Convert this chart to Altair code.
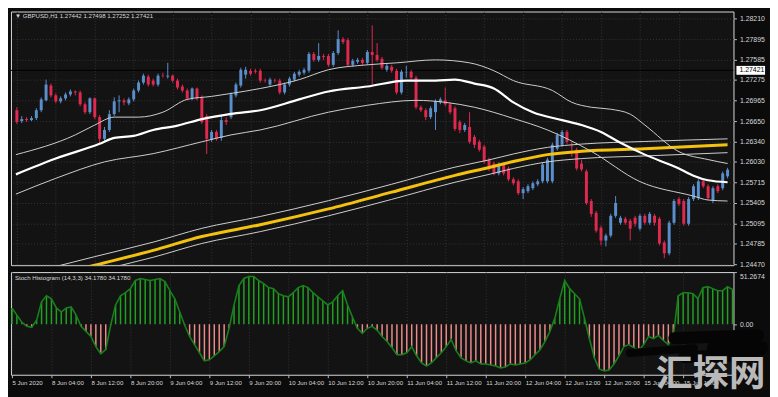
import json
import altair as alt
import pandas as pd

# ---------------- data ----------------
header = "▼ GBPUSD,H1  1.27442 1.27498 1.27252 1.27421"
ind_title = "Stoch Histogram (14,3,3) 34.1780 34.1780"
last_price = 1.27421

bar_index = list(range(147))
opens = [
    1.26815, 1.2665, 1.2668, 1.26665, 1.26695, 1.26815, 1.26965, 1.2719, 1.2704, 1.2695,
    1.26995, 1.27055, 1.271, 1.27085, 1.26905, 1.26785, 1.26995, 1.2671, 1.2638, 1.26515,
    1.26755, 1.2695, 1.26965, 1.2692, 1.2698, 1.27115, 1.27235, 1.27325, 1.27265, 1.27205,
    1.2734, 1.27325, 1.2734, 1.27265, 1.27175, 1.27115, 1.26995, 1.27145, 1.2701, 1.26725,
    1.26365, 1.26485, 1.26395, 1.26665, 1.2671, 1.2704, 1.2719, 1.27355, 1.27415, 1.27415,
    1.27415, 1.27265, 1.27205, 1.2727, 1.27265, 1.27085, 1.27205, 1.2728, 1.27355, 1.27385,
    1.27415, 1.2767, 1.2758, 1.2764, 1.2764, 1.27505, 1.27685, 1.27895, 1.2788, 1.27505,
    1.2755, 1.2758, 1.27535, 1.277, 1.27655, 1.27595, 1.2743, 1.27475, 1.27415, 1.27085,
    1.27385, 1.274, 1.2731, 1.2686, 1.26815, 1.2671, 1.26785, 1.26935, 1.26965, 1.26905,
    1.26845, 1.26635, 1.26515, 1.2656, 1.2641, 1.26335, 1.2626, 1.26065, 1.26005, 1.25855,
    1.2599, 1.2593, 1.25765, 1.25735, 1.25555, 1.25585, 1.2563, 1.2569, 1.25735, 1.25735,
    1.25735, 1.2623, 1.2629, 1.26485, 1.2626, 1.26215, 1.26005, 1.25885, 1.25435, 1.25255,
    1.2503, 1.24835, 1.2491, 1.2521, 1.25105, 1.25165, 1.25135, 1.2518, 1.25015, 1.2521,
    1.25105, 1.2521, 1.25165, 1.24805, 1.2464, 1.25105, 1.25465, 1.25435, 1.2509, 1.25465,
    1.2548, 1.25735, 1.2566, 1.25435, 1.2566, 1.2563, 1.2581,
]
highs = [
    1.2686, 1.26725, 1.2671, 1.26725, 1.26845, 1.2701, 1.2728, 1.2722, 1.2707, 1.27025,
    1.27085, 1.2713, 1.27115, 1.27115, 1.26935, 1.2701, 1.2701, 1.2674, 1.2656, 1.26815,
    1.2701, 1.2704, 1.26995, 1.2701, 1.27145, 1.27265, 1.2737, 1.27355, 1.27295, 1.2737,
    1.27385, 1.27535, 1.27355, 1.27295, 1.27205, 1.27145, 1.2716, 1.2716, 1.2704, 1.26755,
    1.26515, 1.26515, 1.2674, 1.2671, 1.27085, 1.27235, 1.2746, 1.27475, 1.27445, 1.27445,
    1.27445, 1.27295, 1.2731, 1.27295, 1.27295, 1.27235, 1.27325, 1.274, 1.2743, 1.2746,
    1.277, 1.277, 1.27835, 1.2767, 1.2767, 1.27715, 1.2803, 1.27925, 1.2791, 1.27595,
    1.2761, 1.2761, 1.2773, 1.28105, 1.27835, 1.27625, 1.2752, 1.27505, 1.27445, 1.2743,
    1.2749, 1.2743, 1.2734, 1.2689, 1.26845, 1.26875, 1.2698, 1.2701, 1.2716, 1.26935,
    1.26875, 1.26665, 1.2662, 1.26785, 1.2644, 1.26365, 1.2629, 1.26095, 1.26035, 1.2602,
    1.2602, 1.2596, 1.25795, 1.25765, 1.25645, 1.2569, 1.25735, 1.25765, 1.2602, 1.26095,
    1.2632, 1.2647, 1.26515, 1.26515, 1.26335, 1.26245, 1.26065, 1.25915, 1.25465, 1.25285,
    1.2506, 1.2494, 1.2524, 1.2551, 1.2521, 1.25195, 1.25165, 1.2521, 1.2524, 1.2524,
    1.2527, 1.2524, 1.25195, 1.24835, 1.25135, 1.25465, 1.25495, 1.25465, 1.25495, 1.2569,
    1.25765, 1.25765, 1.2569, 1.2566, 1.2569, 1.25885, 1.2594,
]
lows = [
    1.26605, 1.2662, 1.26635, 1.2665, 1.26665, 1.26785, 1.2695, 1.2701, 1.2692, 1.2692,
    1.26965, 1.27025, 1.2704, 1.26875, 1.26755, 1.26755, 1.2668, 1.26305, 1.2635, 1.26485,
    1.26725, 1.26785, 1.2689, 1.2689, 1.2695, 1.27085, 1.27205, 1.27175, 1.27175, 1.27175,
    1.2731, 1.27295, 1.27235, 1.2713, 1.27085, 1.26965, 1.26965, 1.26965, 1.26605, 1.2615,
    1.26335, 1.2635, 1.2635, 1.2659, 1.2668, 1.2701, 1.2716, 1.27295, 1.2734, 1.2737,
    1.27235, 1.27235, 1.27175, 1.27235, 1.27055, 1.27055, 1.27175, 1.2725, 1.27325, 1.27355,
    1.27385, 1.2755, 1.2755, 1.2758, 1.27475, 1.27475, 1.27655, 1.2782, 1.27475, 1.27475,
    1.2752, 1.27505, 1.27505, 1.27205, 1.2755, 1.2743, 1.274, 1.27385, 1.27055, 1.27055,
    1.2731, 1.2728, 1.2683, 1.26785, 1.26665, 1.2668, 1.26515, 1.26905, 1.26875, 1.26755,
    1.265, 1.2647, 1.26485, 1.26305, 1.2624, 1.26185, 1.26005, 1.2589, 1.25825, 1.25825,
    1.25825, 1.25735, 1.25675, 1.25525, 1.25465, 1.25555, 1.256, 1.2566, 1.25705, 1.25705,
    1.25705, 1.262, 1.2626, 1.26305, 1.2611, 1.259, 1.25885, 1.25375, 1.25195, 1.24955,
    1.2476, 1.24745, 1.2488, 1.2518, 1.25075, 1.25075, 1.24835, 1.25045, 1.24985, 1.25075,
    1.25075, 1.2506, 1.2476, 1.24565, 1.2461, 1.25075, 1.2536, 1.2506, 1.2506, 1.25435,
    1.2545, 1.2563, 1.2545, 1.25405, 1.25555, 1.256, 1.2578,
]
closes = [
    1.26635, 1.2668, 1.26665, 1.26695, 1.26815, 1.2698, 1.27205, 1.2704, 1.2695, 1.26995,
    1.27055, 1.271, 1.27085, 1.26905, 1.26785, 1.26995, 1.2671, 1.2638, 1.26515, 1.26755,
    1.2695, 1.26965, 1.26935, 1.2698, 1.27115, 1.27235, 1.2734, 1.27205, 1.27205, 1.2734,
    1.27335, 1.2734, 1.27265, 1.2716, 1.27115, 1.26995, 1.27145, 1.26995, 1.26635, 1.2638,
    1.26485, 1.2638, 1.26665, 1.26635, 1.27055, 1.27205, 1.2743, 1.2743, 1.2737, 1.274,
    1.27265, 1.2726, 1.2728, 1.27265, 1.27085, 1.27205, 1.27295, 1.2737, 1.274, 1.2743,
    1.2767, 1.2758, 1.2764, 1.27625, 1.27505, 1.27685, 1.27895, 1.2785, 1.27505, 1.27565,
    1.2758, 1.27535, 1.277, 1.27655, 1.2758, 1.2746, 1.2749, 1.27415, 1.27085, 1.274,
    1.2739, 1.2731, 1.2686, 1.26815, 1.2671, 1.26845, 1.2695, 1.2698, 1.26905, 1.26785,
    1.2653, 1.26515, 1.2659, 1.26335, 1.2629, 1.26215, 1.26035, 1.2593, 1.25855, 1.2599,
    1.25855, 1.25765, 1.25705, 1.25555, 1.25615, 1.2566, 1.25705, 1.25735, 1.2599, 1.26065,
    1.2629, 1.2644, 1.26485, 1.26335, 1.26255, 1.2593, 1.25915, 1.25405, 1.2524, 1.24985,
    1.24835, 1.2491, 1.2521, 1.25405, 1.2518, 1.25105, 1.25015, 1.2509, 1.2521, 1.25105,
    1.2524, 1.25105, 1.2479, 1.2464, 1.25105, 1.25435, 1.2539, 1.2509, 1.25465, 1.2566,
    1.25735, 1.2566, 1.2548, 1.2563, 1.25585, 1.25855, 1.2591,
]

stoch = [
    16, 9, 2, -2, -3, 4, 22, 28, 25, 16,
    12, 16, 17, 9, -2, -7, -12, -22, -29, -25,
    -1, 19, 28, 31, 35, 43, 45, 44, 43, 44,
    45, 42, 33, 25, 12, -1, -12, -20, -28, -36,
    -35, -31, -27, -22, -4, 19, 38, 45, 47, 47,
    43, 40, 36, 35, 30, 28, 27, 31, 36, 38,
    36, 31, 27, 23, 19, 22, 28, 33, 19, 7,
    -4, -9, -4, -2, -6, -12, -17, -23, -30, -30,
    -28, -22, -31, -38, -41, -38, -33, -28, -22, -15,
    -26, -33, -36, -38, -36, -39, -39, -40, -41, -43,
    -42, -39, -40, -39, -38, -35, -30, -25, -17, -7,
    6, 25, 43, 35, 30, 25, 6, -14, -33, -44,
    -46, -45, -39, -31, -22, -20, -23, -26, -20, -12,
    -14, -11, -16, -20, -12, 28, 31, 31, 30, 25,
    36, 37, 35, 33, 33, 37, 34.178,
]

# moving-average envelope (white) read at sample bars
mid_idx = [-0.2, 8, 17, 20, 24, 28, 33, 38, 44, 50, 58, 64, 72, 80, 86, 90, 94, 98, 102,
           106, 112, 116, 120, 124, 129, 136, 139, 142, 146]
mid_val = [1.2584, 1.2608, 1.26305, 1.26395, 1.26425, 1.26515, 1.2658, 1.2668, 1.2676,
           1.26815, 1.2698, 1.271, 1.27175, 1.27265, 1.27265, 1.2728, 1.2722, 1.27145,
           1.26935, 1.26785, 1.26665, 1.2659, 1.26485, 1.2632, 1.2614, 1.2593, 1.2582,
           1.2575, 1.2572]
up_idx = [-0.2, 12, 16, 20, 25, 30, 35, 40, 44, 50, 58, 64, 72, 78, 86, 93, 98, 102, 110,
          114, 118, 122, 126, 129, 136, 142, 146]
up_val = [1.2614, 1.2644, 1.2659, 1.2671, 1.2671, 1.26785, 1.2698, 1.27025, 1.2707,
          1.27145, 1.2728, 1.2743, 1.27505, 1.27535, 1.2758, 1.27535, 1.27415, 1.27265,
          1.27115, 1.26935, 1.2686, 1.2683, 1.26755, 1.2659, 1.26185, 1.26065, 1.26005]
lo_idx = [-0.2, 8, 18, 28, 38, 44, 50, 64, 72, 82, 88, 94, 102, 109, 118, 128, 139, 142, 146]
lo_val = [1.2554, 1.2578, 1.2603, 1.26155, 1.26335, 1.2644, 1.26515, 1.26785, 1.2689,
          1.26965, 1.26935, 1.2686, 1.2669, 1.26515, 1.2619, 1.2573, 1.2551, 1.2545, 1.25435]

# long moving average (yellow) and its thin band
ma200_idx = [-0.2, 8, 16, 28, 38, 50, 64, 77, 90, 97, 102, 109, 116, 129, 146]
ma200_val = [1.2415, 1.2431, 1.2446, 1.24685, 1.24895, 1.25075, 1.25315, 1.2557, 1.25825,
             1.25945, 1.26035, 1.2614, 1.2619, 1.2623, 1.2629]
ma200_up = [1.2428, 1.2444, 1.2459, 1.2481, 1.2502, 1.2520, 1.2544, 1.2569, 1.2595, 1.2606,
            1.2615, 1.2625, 1.2630, 1.2634, 1.2638]
ma200_lo = [1.2404, 1.2420, 1.2436, 1.2458, 1.2479, 1.2497, 1.2521, 1.2546, 1.2572, 1.2584,
            1.2593, 1.2603, 1.2608, 1.2612, 1.2617]

price_ticks = [1.28210, 1.27895, 1.27585, 1.27275, 1.26965, 1.26650, 1.26340, 1.26030,
               1.25715, 1.25405, 1.25095, 1.24785, 1.24470]
time_idx = [0, 8, 16, 24, 32, 40, 48, 56, 64, 72, 80, 88, 96, 104, 112, 120, 128, 136]
time_labels = ["5 Jun 2020", "8 Jun 04:00", "8 Jun 12:00", "8 Jun 20:00", "9 Jun 04:00",
               "9 Jun 12:00", "9 Jun 20:00", "10 Jun 04:00", "10 Jun 12:00", "10 Jun 20:00",
               "11 Jun 04:00", "11 Jun 12:00", "11 Jun 20:00", "12 Jun 04:00", "12 Jun 12:00",
               "12 Jun 20:00", "15 Jun 04:00", "15 Jun 12:00"]
ind_ticks = [51.2674, 0]
ind_domain = [-49.6326, 51.2674]

# ---------------- styling ----------------
W, H_MAIN, H_IND = 732, 257, 104
BG, PLOT_BG, GRID, FG = "#0b0b0b", "#131313", "#363636", "#d8d8d8"
UP, DOWN = "#5a8fcc", "#e0294f"
POS, NEG = "#21a021", "#ee8a8a"
FONT = "Liberation Sans"

xscale = alt.Scale(domain=[-0.2, 146.2], nice=False, zero=False)
yscale = alt.Scale(domain=[1.2446, 1.28315], nice=False, zero=False)
iscale = alt.Scale(domain=ind_domain, nice=False, zero=False)

x_axis_main = alt.Axis(values=time_idx, labels=False, ticks=False, domain=False, grid=True,
                       gridColor=GRID, gridDash=[1, 2], title=None)
y_axis_main = alt.Axis(orient="right", values=price_ticks, format=".5f", labelColor=FG,
                       labelFont=FONT, labelFontSize=7, labelPadding=3, tickColor="#bbbbbb",
                       tickSize=3, domain=False, grid=True, gridColor=GRID, gridDash=[1, 2],
                       title=None, labelOverlap=False)
label_expr = json.dumps(time_labels) + "[round(datum.value / 8)]"
x_axis_ind = alt.Axis(values=time_idx, labelExpr=label_expr, labelAlign="left", labelColor=FG,
                      labelFont=FONT, labelFontSize=6.2, labelPadding=2, tickColor="#bbbbbb",
                      tickSize=3, domain=False, grid=True, gridColor=GRID, gridDash=[1, 2],
                      title=None, labelOverlap=False, labelFlush=False)
y_axis_ind = alt.Axis(orient="right", values=ind_ticks,
                      labelExpr="datum.value == 0 ? '0.00' : format(datum.value, '.4f')",
                      labelColor=FG, labelFont=FONT, labelFontSize=7, labelPadding=3,
                      tickColor="#bbbbbb", tickSize=3, domain=False, grid=False, title=None,
                      labelFlush=True)


def XM(field="i"):
    return alt.X(f"{field}:Q", scale=xscale, axis=x_axis_main)


def YM(field):
    return alt.Y(f"{field}:Q", scale=yscale, axis=y_axis_main)


def XI(field="i"):
    return alt.X(f"{field}:Q", scale=xscale, axis=x_axis_ind)


def YI(field):
    return alt.Y(f"{field}:Q", scale=iscale, axis=y_axis_ind)


df = pd.DataFrame({"i": bar_index, "open": opens, "high": highs, "low": lows, "close": closes})
df["col"] = [UP if c >= o else DOWN for o, c in zip(opens, closes)]
candle_color = alt.Color("col:N", scale=None, legend=None)

wicks = alt.Chart(df).mark_rule(strokeWidth=1).encode(
    x=XM(), y=YM("low"), y2="high:Q", color=candle_color)
bodies = alt.Chart(df).mark_bar(size=3).encode(
    x=XM(), y=YM("open"), y2="close:Q", color=candle_color)


def curve(idx, vals, color, width, clip=False):
    d = pd.DataFrame({"i": idx, "p": vals})
    return alt.Chart(d).mark_line(color=color, strokeWidth=width, interpolate="monotone",
                                  clip=clip).encode(x=XM(), y=YM("p"))


price_df = pd.DataFrame({"p": [last_price], "t": [f"{last_price:.5f}"]})
price_line = alt.Chart(price_df).mark_rule(color="#000000", strokeWidth=1).encode(y=YM("p"))
price_box = alt.Chart(price_df).mark_rule(color="#ffffff", strokeWidth=9, strokeCap="butt").encode(
    y=YM("p"), x=alt.value(W + 3), x2=alt.value(W + 32))
price_txt = alt.Chart(price_df).mark_text(align="left", baseline="middle", color="#000000",
                                          font=FONT, fontSize=7).encode(
    y=YM("p"), x=alt.value(W + 6), text="t:N")

head = alt.Chart(pd.DataFrame({"t": [header]})).mark_text(
    align="left", baseline="middle", color=FG, font=FONT, fontSize=6.2).encode(
    x=alt.value(4), y=alt.value(5), text="t:N")

main = alt.layer(
    price_line,
    wicks, bodies,
    curve(ma200_idx, ma200_up, "#cfcfcf", 1, clip=True),
    curve(ma200_idx, ma200_lo, "#cfcfcf", 1, clip=True),
    curve(ma200_idx, ma200_val, "#f4c20d", 3, clip=True),
    curve(up_idx, up_val, "#cfcfcf", 1, clip=True),
    curve(lo_idx, lo_val, "#cfcfcf", 1, clip=True),
    curve(mid_idx, mid_val, "#ffffff", 2.2, clip=True),
    price_box, price_txt, head,
).properties(width=W, height=H_MAIN)

ind_df = pd.DataFrame({"i": bar_index, "v": stoch, "zero": [0] * len(stoch)})
ind_df["col"] = [POS if v >= 0 else NEG for v in stoch]
hist = alt.Chart(ind_df).mark_rule(strokeWidth=1.5).encode(
    x=XI(), y=YI("zero"), y2="v:Q", color=alt.Color("col:N", scale=None, legend=None))
ind_line = alt.Chart(ind_df).mark_line(color="#17801a", strokeWidth=1.6).encode(x=XI(), y=YI("v"))
ind_head = alt.Chart(pd.DataFrame({"t": [ind_title]})).mark_text(
    align="left", baseline="middle", color=FG, font=FONT, fontSize=6.2).encode(
    x=alt.value(4), y=alt.value(6), text="t:N")

# censoring scribble and watermark that cover the lower-right corner of the screenshot
blob = pd.DataFrame({"x": [627, 672, 682, 712], "x2": [692, 757, 752, 760],
                     "y": [82, 67, 86, 77], "y2": [77, 64, 84, 77],
                     "w": [8, 12, 12, 14]})
scribble = alt.Chart(blob).mark_rule(color="#050505", strokeCap="round").encode(
    x=alt.X("x:Q", scale=None), x2="x2:Q", y=alt.Y("y:Q", scale=None), y2="y2:Q",
    strokeWidth=alt.StrokeWidth("w:Q", scale=None, legend=None))
watermark = alt.Chart(pd.DataFrame({"t": ["汇探网"]})).mark_text(
    align="center", baseline="middle", color="#b9b9b9", font="Noto Sans CJK SC",
    fontWeight="bold", fontSize=37).encode(x=alt.value(709), y=alt.value(104), text="t:N")

ind = alt.layer(hist, ind_line, ind_head, scribble, watermark).properties(width=W, height=H_IND)

chart = alt.vconcat(main, ind, spacing=3).properties(
    background=BG, padding={"left": 0, "top": 0, "right": 0, "bottom": 2}
).configure_view(stroke="#d9d9d9", strokeWidth=1, fill=PLOT_BG)

chart.save("out.html", embed_options={"renderer": "svg", "actions": False})
